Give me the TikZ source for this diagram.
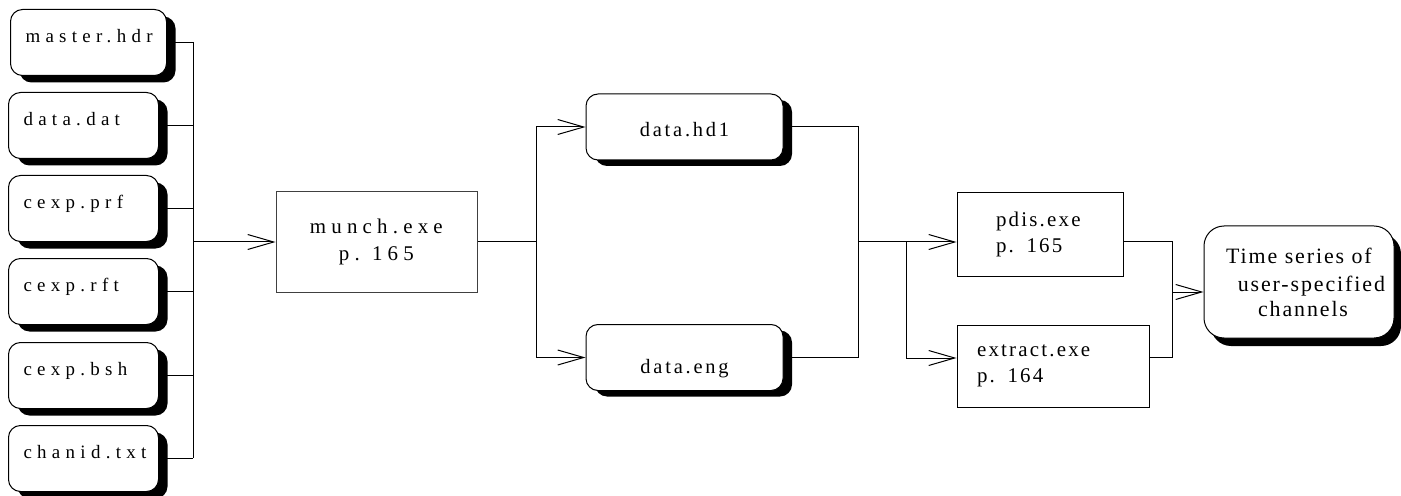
\documentclass[tikz,border=0pt]{standalone}
\usepackage{fontspec}
\setmainfont{Liberation Serif}
\usetikzlibrary{arrows.meta,shadows}
\newcommand\tcsp[2]{\special{pdf:literal direct #1 Tc}#2\special{pdf:literal direct 0 Tc}}
\begin{document}
\begin{tikzpicture}[x=1bp,y=-1bp,line width=1bp,
  filebox/.style={draw, rounded corners=12bp, fill=white,
    drop shadow={shadow xshift=9bp,shadow yshift=-7bp,fill=black,opacity=1},
    minimum width=150bp, minimum height=66bp, text width=120bp, inner xsep=15bp,
    align=left, font=\fontsize{19}{24}\selectfont, text height=13bp, text depth=13bp,
    anchor=north west},
  procbox/.style={draw=black!75, fill=white, minimum width=201bp, minimum height=100bp,
    align=center, font=\fontsize{21}{28}\selectfont},
  databox/.style={draw, rounded corners=12bp, fill=white,
    drop shadow={shadow xshift=9bp,shadow yshift=-6bp,fill=black,opacity=1},
    minimum width=197bp, minimum height=66bp, font=\fontsize{20.5}{28}\selectfont,
    text height=20bp, text depth=0bp},
  exebox/.style={draw, fill=white, align=left, font=\fontsize{21}{26}\selectfont},
  outbox/.style={draw, rounded corners=20bp, fill=white,
    drop shadow={shadow xshift=7bp,shadow yshift=-8bp,fill=black,opacity=1},
    minimum width=190bp, minimum height=112bp, align=center,
    font=\fontsize{22}{25}\selectfont},
  barb/.style={-{Straight Barb[length=26bp,width=15bp]}}]
\useasboundingbox (0,0) rectangle (1401,496);
% input files
\node[filebox, minimum width=156bp, text width=126bp] (f1) at (10,9) {\tcsp{5.3}{master.hdr}};
\node[filebox] (f2) at (8,92) {\tcsp{5.3}{data.dat}};
\node[filebox] (f3) at (8,175) {\tcsp{5.3}{cexp.prf}};
\node[filebox] (f4) at (8,258) {\tcsp{5.3}{cexp.rft}};
\node[filebox] (f5) at (8,342) {\tcsp{5.3}{cexp.bsh}};
\node[filebox] (f6) at (8,425) {\tcsp{5.3}{chanid.txt}};
% processing
\node[procbox] (munch) at (376.5,242) {\tcsp{5.2}{munch.exe}\hspace*{42bp}\\\tcsp{5.2}{p. 165}\hspace*{21bp}};
\node[databox] (hd1) at (684.5,127) {\tcsp{2.8}{data.hd1}\hspace*{19.6bp}};
\node[databox, text height=31bp] (eng) at (684.5,357.5) {\tcsp{2.8}{data.eng}\hspace*{19.6bp}};
\node[exebox, minimum width=166bp, minimum height=83bp, text width=88bp, inner xsep=39bp] (pdis) at (1040,234.5) {\tcsp{2.2}{pdis.exe}\\\tcsp{2.2}{p. 165}};
\node[exebox, minimum width=192bp, minimum height=82bp, text width=152bp, inner xsep=20bp] (extract) at (1053,366) {\tcsp{2.2}{extract.exe}\\\tcsp{2.2}{p. 164}};
\node[outbox] (ts) at (1299,282) {\tcsp{1.9}{Time series of}\hspace*{21bp}\\[3bp]\tcsp{1.9}{user-specified}\hspace*{48bp}\\\hspace*{8bp}\tcsp{1.9}{channels}\hspace*{13.3bp}};
% bus 1
\coordinate (b1t) at (193,42);
\coordinate (b1b) at (193,458);
\coordinate (b1m) at (193,242);
\draw (b1t) -- (b1b);
\foreach \i in {1,...,6} {\draw (f\i.east) -- (f\i.east -| b1t);}
\draw[barb] (b1m) -- (b1m -| munch.west);
% bus 2
\coordinate (b2t) at (536,127);
\coordinate (b2b) at (536,357.5);
\draw (munch.east) -- (munch.east -| b2t);
\draw (b2t) -- (b2b);
\draw[barb] (b2t) -- (hd1.west);
\draw[barb] (b2b) -- (eng.west);
% bus 3
\coordinate (b3t) at (858,127);
\coordinate (b3b) at (858,357.5);
\coordinate (j3) at (858,242);
\draw (hd1.east) -- (b3t) -- (b3b) -- (eng.east);
\draw[barb] (j3) -- (j3 -| pdis.west);
\coordinate (b4t) at (906,242);
\coordinate (b4b) at (906,358);
\draw (b4t) -- (b4b);
\draw[barb] (b4b) -- (b4b -| extract.west);
% bus 5
\coordinate (b5t) at (1172,242);
\coordinate (b5b) at (1172,357);
\coordinate (b5m) at (1172,292);
\draw (b5t -| pdis.east) -- (b5t) -- (b5b) -- (b5b -| extract.east);
\draw[barb] (b5m) -- (b5m -| ts.west);
\end{tikzpicture}
\end{document}
